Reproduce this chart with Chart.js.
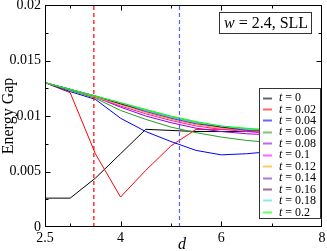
<!DOCTYPE html>
<html><head><meta charset="utf-8">
<script src="https://cdn.jsdelivr.net/npm/chart.js@4.4.0/dist/chart.umd.min.js"></script>
<style>html,body{margin:0;padding:0;background:#fff;overflow:hidden}</style>
</head><body>
<canvas id="c" width="327" height="251"></canvas>
<script>
// ---- data ----
const dValues = [2.5, 3, 3.5, 4, 4.5, 5, 5.5, 6, 6.5, 7, 7.5, 8];
const tLabels = ['0', '0.02', '0.04', '0.06', '0.08', '0.1', '0.12', '0.14', '0.16', '0.18', '0.2'];
const gap_t000 = [0.0026, 0.0026, 0.0044, 0.0066, 0.0088, 0.0087, 0.0086, 0.0086, 0.0086, 0.0086, 0.0086, 0.0086];
const gap_t002 = [0.0130, 0.0121, 0.0066, 0.0027, 0.0051, 0.0073, 0.0088, 0.0088, 0.0088, 0.0088, 0.0088, 0.0089];
const gap_t004 = [0.0130, 0.0122, 0.0115, 0.0098, 0.0086, 0.0077, 0.0069, 0.0065, 0.0066, 0.0068, 0.0075, 0.0083];
const gap_t006 = [0.0130, 0.0123, 0.0116, 0.0105, 0.0097, 0.0090, 0.0085, 0.0081, 0.0078, 0.0076, 0.0077, 0.0079];
const gap_t008 = [0.0130, 0.0124, 0.0117, 0.0108, 0.0100, 0.0094, 0.0089, 0.0086, 0.0084, 0.0083, 0.0082, 0.0082];
const gap_t010 = [0.0130, 0.0124, 0.0117, 0.0109, 0.0102, 0.0096, 0.0091, 0.0088, 0.0086, 0.0084, 0.0083, 0.0083];
const gap_t012 = [0.0130, 0.0124, 0.0117, 0.0110, 0.0103, 0.0097, 0.0092, 0.0089, 0.0087, 0.0085, 0.0084, 0.0084];
const gap_t014 = [0.0130, 0.0124, 0.0118, 0.0111, 0.0104, 0.0098, 0.0093, 0.0090, 0.0087, 0.0086, 0.0085, 0.0084];
const gap_t016 = [0.0130, 0.0124, 0.0118, 0.0111, 0.0105, 0.0099, 0.0094, 0.0090, 0.0088, 0.0086, 0.0085, 0.0085];
const gap_t018 = [0.0130, 0.0124, 0.0118, 0.0112, 0.0105, 0.0099, 0.0094, 0.0091, 0.0088, 0.0087, 0.0086, 0.0085];
const gap_t020 = [0.0130, 0.0124, 0.0118, 0.0112, 0.0106, 0.0100, 0.0095, 0.0091, 0.0089, 0.0087, 0.0086, 0.0085];
const allGaps = [gap_t000, gap_t002, gap_t004, gap_t006, gap_t008, gap_t010, gap_t012, gap_t014, gap_t016, gap_t018, gap_t020];
const seriesColors = ['#000000', '#ff0000', '#0000ff', '#22a022', '#9400d3', '#ff00ff', '#ffa500', '#7221bc', '#670748', '#40e0d0', '#00ff00'];
const xTickLabels = [2.5, 4, 6, 8];
const yTickValues = [0, 0.005, 0.01, 0.015, 0.02];
const markerLines = [3.47, 5.17];
const markerColors = ['#ff0000', '#5c5cff'];

const SERIF = "'Liberation Serif', 'DejaVu Serif', serif";

const datasets = allGaps.map((arr, i) => ({
  label: 't = ' + tLabels[i],
  data: dValues.map((d, k) => ({x: d, y: arr[k]})),
  borderColor: seriesColors[i],
  borderWidth: 1,
  pointRadius: 0,
  fill: false,
  tension: 0,
  order: allGaps.length - i
}));
markerLines.forEach((d, i) => {
  datasets.push({
    label: '_marker' + i,
    data: [{x: d, y: 0}, {x: d, y: 0.02}],
    borderColor: markerColors[i],
    borderWidth: 1.2,
    borderDash: [4, 3],
    pointRadius: 0,
    fill: false,
    order: -1
  });
});

const decor = {
  id: 'decor',
  afterDatasetsDraw(chart) {
    const ctx = chart.ctx, a = chart.chartArea, xs = chart.scales.x, ys = chart.scales.y;
    ctx.save();
    ctx.strokeStyle = '#000';
    ctx.lineWidth = 1;
    const L = Math.round(a.left) + 0.5, R = Math.round(a.right) - 0.5;
    const T = Math.round(a.top) + 0.5, B = Math.round(a.bottom) - 0.5;
    const seg = (x1, y1, x2, y2) => { ctx.beginPath(); ctx.moveTo(x1, y1); ctx.lineTo(x2, y2); ctx.stroke(); };
    [[4, 5], [6, 5], [3, 3], [5, 3], [7, 3]].forEach(([v, len]) => {
      const px = Math.round(xs.getPixelForValue(v)) + 0.5;
      seg(px, B, px, B - len); seg(px, T, px, T + len);
    });
    [[0.005, 5], [0.01, 5], [0.015, 5], [0.0025, 3], [0.0075, 3], [0.0125, 3], [0.0175, 3]].forEach(([v, len]) => {
      const py = Math.round(ys.getPixelForValue(v)) + 0.5;
      seg(L, py, L + len, py); seg(R, py, R - len, py);
    });
    ctx.strokeRect(L, T, R - L, B - T);

    // label box
    ctx.fillStyle = '#fff';
    ctx.fillRect(219.5, 12.5, 92, 21);
    ctx.strokeStyle = '#333';
    ctx.strokeRect(219.5, 12.5, 92, 21);
    ctx.fillStyle = '#000';
    ctx.textBaseline = 'middle';
    ctx.textAlign = 'left';
    ctx.font = 'italic 16px ' + SERIF;
    ctx.fillText('w', 224, 23.5);
    const ww = ctx.measureText('w').width;
    ctx.font = '16px ' + SERIF;
    ctx.fillText(' = 2.4, SLL', 224 + ww, 23.5);

    // legend
    ctx.fillStyle = '#fff';
    ctx.fillRect(259.5, 88.5, 61, 130);
    ctx.strokeStyle = '#333';
    ctx.strokeRect(259.5, 88.5, 61, 130);
    chart.data.datasets.forEach((ds, i) => {
      if (ds.label.startsWith('_')) return;
      const y = 97.5 + i * 11.44;
      ctx.save();
      ctx.globalAlpha = 0.6;
      ctx.strokeStyle = ds.borderColor;
      ctx.lineWidth = 2;
      seg(263, Math.round(y) + 0.5, 272, Math.round(y) + 0.5);
      ctx.restore();
      ctx.fillStyle = '#000';
      ctx.font = 'italic 12px ' + SERIF;
      ctx.fillText('t', 279, y + 0.5);
      const tw = ctx.measureText('t').width;
      ctx.font = '12px ' + SERIF;
      ctx.fillText(ds.label.slice(1), 279 + tw, y + 0.5);
    });
    ctx.restore();
  },
  afterDraw(chart) {
    const ctx = chart.ctx;
    ctx.save();
    ctx.fillStyle = '#000';
    ctx.textAlign = 'center';
    ctx.textBaseline = 'middle';
    ctx.font = 'italic 16px ' + SERIF;
    ctx.fillText('d', 182, 245);
    ctx.translate(9, 116);
    ctx.rotate(-Math.PI / 2);
    ctx.font = '16px ' + SERIF;
    ctx.fillText('Energy Gap', 0, 0);
    ctx.restore();
  }
};

new Chart(document.getElementById('c'), {
  type: 'line',
  data: {datasets},
  plugins: [decor],
  options: {
    responsive: false,
    devicePixelRatio: 1,
    animation: false,
    layout: {padding: {left: 0, right: 5, top: 5, bottom: 0}},
    plugins: {legend: {display: false}, tooltip: {enabled: false}},
    scales: {
      x: {
        type: 'linear', min: 2.5, max: 8,
        grid: {display: false, drawTicks: false},
        border: {display: false},
        afterBuildTicks: s => { s.ticks = xTickLabels.map(v => ({value: v})); },
        afterFit: s => { s.height = 24; s.paddingLeft = 0; s.paddingRight = 0; },
        ticks: {font: {family: SERIF, size: 14}, color: '#000', padding: 3, maxRotation: 0, autoSkip: false,
                callback: v => String(v)}
      },
      y: {
        type: 'linear', min: 0, max: 0.02,
        grid: {display: false, drawTicks: false},
        border: {display: false},
        afterBuildTicks: s => { s.ticks = yTickValues.map(v => ({value: v})); },
        afterFit: s => { s.width = 45; s.paddingTop = 0; s.paddingBottom = 0; },
        ticks: {font: {family: SERIF, size: 14}, color: '#000', padding: 4, autoSkip: false,
                callback: v => String(v)}
      }
    }
  }
});
</script>
</body></html>
